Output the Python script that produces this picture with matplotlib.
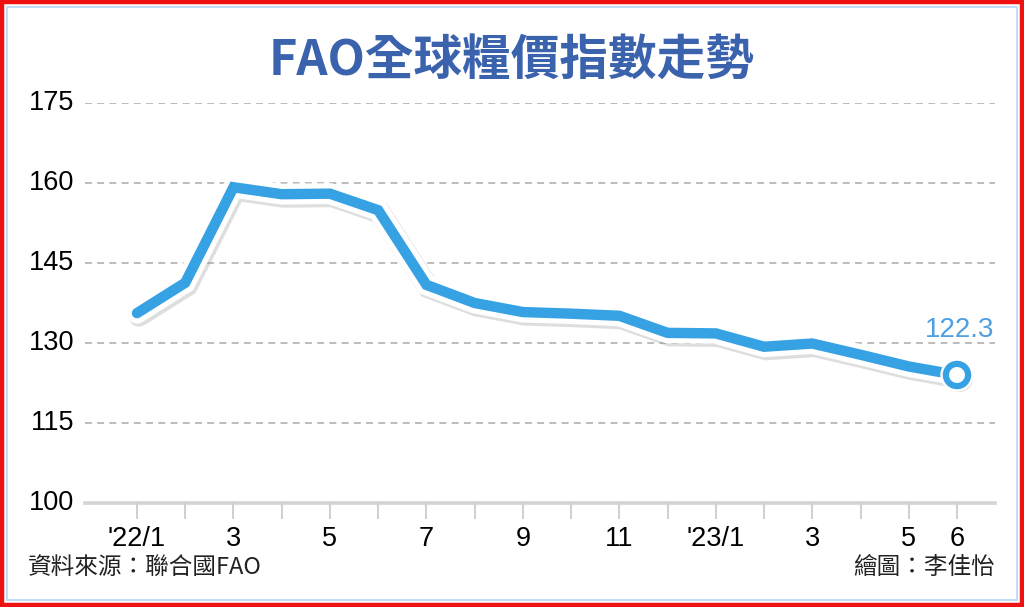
import matplotlib
matplotlib.use("Agg")
import matplotlib.pyplot as plt
import matplotlib.patheffects as pe
from matplotlib.patches import Rectangle

# ---- data ----
months = ["'22/1", "2", "3", "4", "5", "6", "7", "8", "9", "10", "11", "12",
          "'23/1", "2", "3", "4", "5", "6"]
values = [135.6, 141.3, 159.2, 157.9, 158.0, 154.9, 140.9, 137.5, 135.8,
          135.5, 135.1, 131.9, 131.8, 129.3, 129.9, 127.8, 125.6, 124.0]
shown_labels = {0: "'22/1", 2: "3", 4: "5", 6: "7", 8: "9", 10: "11",
                12: "'23/1", 14: "3", 16: "5", 17: "6"}
y_ticks = [100, 115, 130, 145, 160, 175]
last_label = "122.3"
title = "FAO全球糧價指數走勢"
source = "資料來源：聯合國FAO"
credit = "繪圖：李佳怡"

LINE_BLUE = "#36a2e4"
TITLE_BLUE = "#3a62ad"
LABEL_BLUE = "#4f9ee0"

W, H = 1024, 607
fig = plt.figure(figsize=(W / 100, H / 100), dpi=100)
fig.patch.set_facecolor("white")

left_px, right_px = 85, 995
bottom_px, top_px = 503, 103
ax = fig.add_axes([left_px / W, (H - bottom_px) / H,
                   (right_px - left_px) / W, (bottom_px - top_px) / H])
ax.set_facecolor("none")

x = list(range(len(values)))
first_px, last_px = 137, 957
step = (last_px - first_px) / (len(values) - 1)
ax.set_xlim(-(first_px - left_px) / step, (len(values) - 1) + (right_px - last_px) / step)
ax.set_ylim(100, 175)

for s in ax.spines.values():
    s.set_visible(False)
ax.set_xticks([])
ax.set_yticks([])

# grid lines
for yv in y_ticks:
    if yv == 100:
        ax.axhline(yv, color="#d4d4d4", lw=2.6, zorder=1, clip_on=False)
    else:
        ax.axhline(yv, color="#a9a9a9", lw=1.1, ls=(0, (4.5, 3.5)), zorder=1)

# y labels
ynum_font = ["Liberation Sans Narrow", "Liberation Sans", "DejaVu Sans"]
for yv in y_ticks:
    ax.text(-(first_px - left_px) / step - 0.22, yv, str(yv), ha="right", va="center",
            fontsize=19.5, family=ynum_font, color="black", clip_on=False)

# x tick marks
trans = ax.get_xaxis_transform()
for xi in x:
    ax.plot([xi, xi], [0, -0.038], color="#cfcfcf", lw=1.4, transform=trans, clip_on=False)

for xi, lab in shown_labels.items():
    ax.text(xi, -0.09, lab, transform=trans, ha="center", va="center",
            fontsize=19.5, family=ynum_font, color="black", clip_on=False)

# main line
line_fx = [pe.SimpleLineShadow(offset=(1.5, -2), shadow_color="#8a8a8a", alpha=0.28, rho=1.0, linewidth=15.5),
           pe.Stroke(linewidth=15, foreground="white"),
           pe.Normal()]
ax.plot(x, values, color=LINE_BLUE, lw=7.5, solid_joinstyle="miter",
        solid_capstyle="round", path_effects=line_fx, zorder=3, clip_on=False)

# end marker
ax.plot([x[-1]], [values[-1]], marker="o", ms=16, mfc="white", mec=LINE_BLUE, mew=4.5,
        zorder=4, clip_on=False,
        path_effects=[pe.SimpleLineShadow(offset=(1.5, -2), shadow_color="#8a8a8a", alpha=0.28, rho=1.0),
                      pe.Stroke(linewidth=8, foreground="white"), pe.Normal()])

ax.text(x[-1] + 0.05, values[-1] + 8.4, last_label, ha="center", va="center",
        fontsize=20, family=ynum_font, color=LABEL_BLUE, zorder=5)

# title
fig.text(0.5, (H - 60) / H, title, ha="center", va="center", fontsize=35,
         fontweight="bold", color=TITLE_BLUE, family=["Noto Sans CJK TC", "DejaVu Sans"])

# footer
fig.text(28 / W, (H - 568) / H, source, ha="left", va="center", fontsize=17,
         color="#222222", family=["Noto Sans CJK TC", "DejaVu Sans"])
fig.text(995 / W, (H - 568) / H, credit, ha="right", va="center", fontsize=17,
         color="#222222", family=["Noto Sans CJK TC", "DejaVu Sans"])

# borders
fig.patches.append(Rectangle((2 / W, 2 / H), (W - 4) / W, (H - 4) / H, transform=fig.transFigure,
                             fill=False, edgecolor="#ee1111", lw=3.2, zorder=10))
fig.patches.append(Rectangle((7 / W, 7 / H), (W - 14) / W, (H - 14) / H, transform=fig.transFigure,
                             fill=False, edgecolor="#b5d6f2", lw=1.2, zorder=10))

fig.savefig("out.png", dpi=100, facecolor="white")
